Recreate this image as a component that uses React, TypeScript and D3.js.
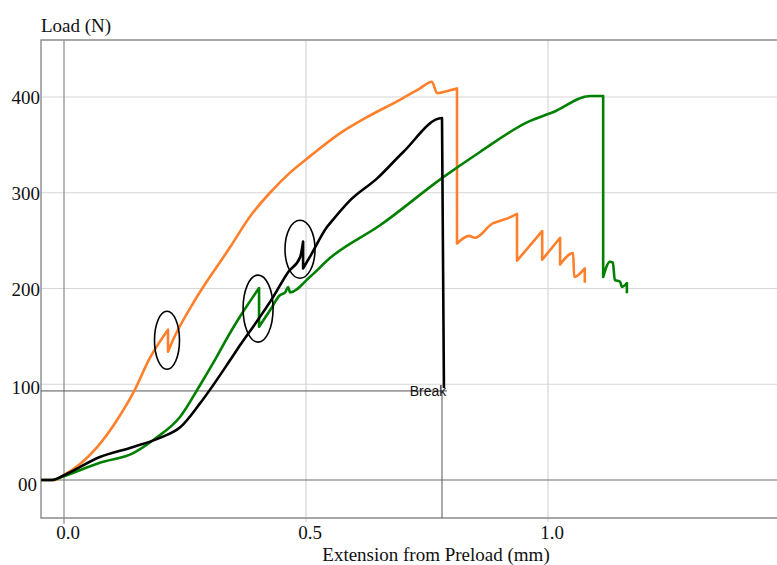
import React, { useEffect, useRef } from "react";
import * as d3 from "d3";

// extension (mm), load (N)
const orangeX = [-0.047, -0.02, 0, 0.068, 0.11, 0.143, 0.178, 0.2149, 0.2149, 0.225, 0.2707, 0.343, 0.384, 0.4256, 0.467, 0.508, 0.57, 0.626, 0.694, 0.7355, 0.76, 0.771, 0.7975, 0.812, 0.812, 0.837, 0.849, 0.886, 0.897, 0.915, 0.936, 0.936, 0.988, 0.988, 1.025, 1.025, 1.052, 1.054, 1.076, 1.076];
const orangeY = [0, 0, 5, 34, 63, 91, 128, 157, 134, 146, 188, 243, 275, 300, 321, 338, 362, 379, 397, 409, 416, 404, 407, 409, 247, 255, 253, 268, 270, 273, 278, 229, 260, 230, 253, 225, 237, 212, 221, 206];

const blackX = [-0.047, -0.025, 0, 0.074, 0.143, 0.198, 0.24, 0.281, 0.343, 0.364, 0.399, 0.432, 0.463, 0.488, 0.494, 0.494, 0.508, 0.543, 0.556, 0.591, 0.647, 0.7, 0.781, 0.785];
const blackY = [0, 0, 5, 24, 34.5, 44, 55, 80, 125, 141, 166, 191, 217, 233, 249, 221, 233, 264, 272, 292, 315, 342, 378, 96];

const greenX = [-0.047, -0.025, 0, 0.074, 0.143, 0.188, 0.24, 0.281, 0.308, 0.343, 0.364, 0.403, 0.403, 0.426, 0.446, 0.457, 0.463, 0.467, 0.508, 0.55, 0.653, 0.783, 0.8595, 0.9587, 1.01, 1.087, 1.114, 1.114, 1.128, 1.134, 1.138, 1.149, 1.153, 1.163, 1.163];
const greenY = [0, 0, 4, 18, 28, 43, 66, 99, 122, 153.5, 171, 200.5, 160, 177.5, 193, 196, 201.6, 196, 212, 232, 266, 316, 342.6, 374, 384, 401, 401, 212, 228, 227, 209, 207, 201.6, 205.7, 195];

const seriesColors = ["#ff7f2a", "#000000", "#008000"];

const xTicks = [0, 0.5, 1.0];
const xTickLabels = ["0.0", "0.5", "1.0"];
const yTicks = [0, 100, 200, 300, 400];
const yTickLabels = ["00", "100", "200", "300", "400"];

// circled load drops: centre (mm, N)
const markX = [0.2128, 0.401, 0.4876];
const markY = [146, 179, 241];
const markRx = [12.5, 15, 15];
const markRy = [29, 33.5, 29];

const breakX = 0.781;
const breakY = 93;

export default function App() {
  const ref = useRef<SVGSVGElement>(null);

  useEffect(() => {
    const svg = d3.select(ref.current);
    svg.selectAll("*").remove();

    const left = 41, right = 777, top = 40, bottom = 518;
    const x = d3.scaleLinear().domain([0, 1]).range([64, 548]);
    const y = d3.scaleLinear().domain([0, 400]).range([480, 97]);
    const serif = "'Liberation Serif', 'Times New Roman', serif";

    // light grid
    svg.append("g").selectAll("line").data(yTicks.filter(d => d !== 0)).enter().append("line")
      .attr("x1", left).attr("x2", right)
      .attr("y1", d => y(d)).attr("y2", d => y(d))
      .attr("stroke", "#d6d6d6").attr("stroke-width", 1.2);
    svg.append("g").selectAll("line").data(xTicks.filter(d => d !== 0)).enter().append("line")
      .attr("x1", d => x(d)).attr("x2", d => x(d))
      .attr("y1", top).attr("y2", bottom + 4)
      .attr("stroke", "#d6d6d6").attr("stroke-width", 1.2);

    // zero axes
    svg.append("line").attr("x1", x(0)).attr("x2", x(0)).attr("y1", top).attr("y2", bottom + 6)
      .attr("stroke", "#8a8a8a").attr("stroke-width", 1.2);
    svg.append("line").attr("x1", left).attr("x2", right).attr("y1", y(0)).attr("y2", y(0))
      .attr("stroke", "#6e6e6e").attr("stroke-width", 1.2);

    // frame
    svg.append("path")
      .attr("d", `M${right},${top}H${left}V${bottom}H${right}`)
      .attr("fill", "none").attr("stroke", "#8c8c8c").attr("stroke-width", 1.4);

    // break marker
    svg.append("line").attr("x1", left).attr("x2", x(breakX) + 5)
      .attr("y1", y(breakY)).attr("y2", y(breakY))
      .attr("stroke", "#555").attr("stroke-width", 1);
    svg.append("line").attr("x1", x(breakX)).attr("x2", x(breakX))
      .attr("y1", y(breakY)).attr("y2", bottom)
      .attr("stroke", "#555").attr("stroke-width", 1);

    // curves: smooth between load drops, straight at the drops
    const line = d3.line<[number, number]>()
      .x(d => x(d[0])).y(d => y(d[1]))
      .curve(d3.curveMonotoneX);
    const pathFor = (pts: [number, number][]) => {
      const runs: [number, number][][] = [[pts[0]]];
      for (let i = 1; i < pts.length; i++) {
        if (pts[i][0] <= pts[i - 1][0]) runs.push([pts[i]]);
        else runs[runs.length - 1].push(pts[i]);
      }
      return runs.map((r, i) => {
        if (r.length === 1) return `${i === 0 ? "M" : "L"}${x(r[0][0])},${y(r[0][1])}`;
        const d = (line(r) || "").replace(/Z$/, "");
        return i === 0 ? d : "L" + d.slice(1);
      }).join("");
    };
    const series = [
      d3.zip(orangeX, orangeY),
      d3.zip(greenX, greenY),
      d3.zip(blackX, blackY),
    ];
    const cols = [seriesColors[0], seriesColors[2], seriesColors[1]];
    series.forEach((s, i) => {
      svg.append("path")
        .attr("d", pathFor(s as [number, number][]))
        .attr("fill", "none")
        .attr("stroke", cols[i])
        .attr("stroke-width", 2.6)
        .attr("stroke-linejoin", "round");
    });

    // annotation ellipses
    svg.append("g").selectAll("ellipse").data(markX).enter().append("ellipse")
      .attr("cx", d => x(d))
      .attr("cy", (d, i) => y(markY[i]))
      .attr("rx", (d, i) => markRx[i])
      .attr("ry", (d, i) => markRy[i])
      .attr("fill", "none").attr("stroke", "#000").attr("stroke-width", 1.6);

    svg.append("text")
      .attr("x", x(breakX) - 14).attr("y", y(breakY) + 5)
      .attr("text-anchor", "middle")
      .attr("font-family", "'Liberation Sans', Arial, sans-serif")
      .attr("font-size", 14)
      .attr("fill", "#111")
      .text("Break");

    // tick labels
    svg.append("g").selectAll("text").data(yTicks).enter().append("text")
      .attr("x", d => (d === 0 ? 37 : 40))
      .attr("y", d => y(d) + 7 + (d === 0 ? 4 : d === 100 ? 3 : 0))
      .attr("text-anchor", "end")
      .attr("font-family", serif).attr("font-size", 19).attr("fill", "#111")
      .text((d, i) => yTickLabels[i]);
    svg.append("g").selectAll("text").data(xTicks).enter().append("text")
      .attr("x", d => x(d) + 4)
      .attr("y", 539)
      .attr("text-anchor", "middle")
      .attr("font-family", serif).attr("font-size", 19).attr("fill", "#111")
      .text((d, i) => xTickLabels[i]);

    // axis titles
    svg.append("text").attr("x", 41).attr("y", 32)
      .attr("font-family", serif).attr("font-size", 19).attr("fill", "#111")
      .text("Load (N)");
    svg.append("text").attr("x", 436).attr("y", 561)
      .attr("text-anchor", "middle")
      .attr("font-family", serif).attr("font-size", 19).attr("fill", "#111")
      .text("Extension from Preload (mm)");
  }, []);

  return (
    <div style={{ position: "absolute", left: 0, top: 0 }}>
      <svg ref={ref} width={777} height={565} style={{ display: "block", background: "#fff" }} />
    </div>
  );
}
